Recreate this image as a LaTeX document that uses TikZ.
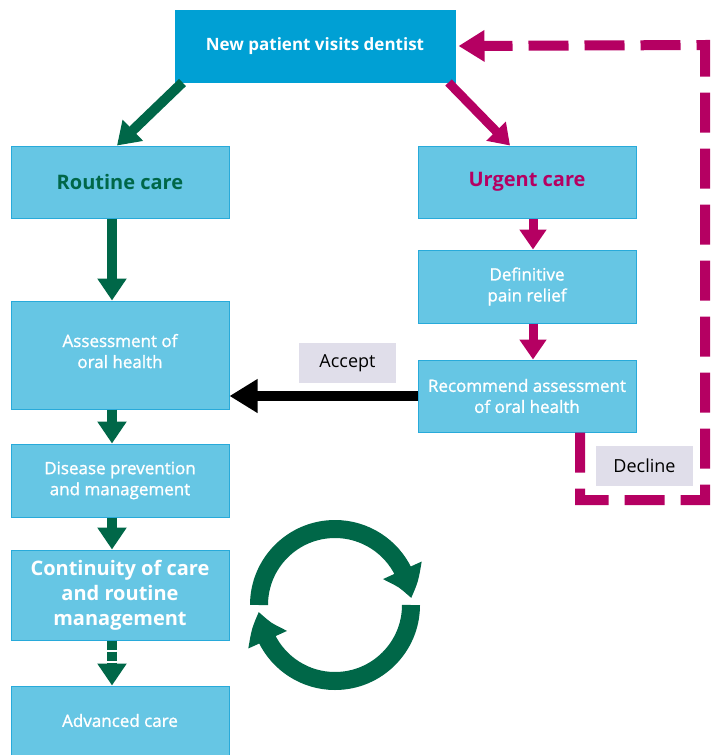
\documentclass[tikz,border=0pt]{standalone}
\usepackage{fontspec}
\setmainfont{Open Sans}
\newfontfamily\medfont[FakeBold=1.3]{Open Sans}
\usetikzlibrary{arrows.meta,bending}

\definecolor{topblue}{RGB}{0,160,212}
\definecolor{boxblue}{RGB}{102,198,228}
\definecolor{boxline}{RGB}{40,170,218}
\definecolor{caregreen}{RGB}{0,103,72}
\definecolor{urgentred}{RGB}{181,0,98}
\definecolor{tagfill}{RGB}{224,222,234}

\begin{document}
\begin{tikzpicture}[x=1pt,y=-1pt,
  box/.style={draw=boxline,line width=1pt,fill=boxblue,text=white,minimum width=218pt,
    align=center,inner sep=2pt,font=\fontsize{17}{21}\selectfont\medfont},
  tag/.style={fill=tagfill,minimum width=97pt,minimum height=40pt,font=\fontsize{18}{18}\selectfont},
  greenarrow/.style={draw=caregreen,line width=10pt,-{Triangle[width=28pt,length=22pt]}},
  redarrow/.style={draw=urgentred,line width=9pt,-{Triangle[width=26pt,length=20pt]}},
  ring/.style={draw=caregreen,line width=18pt,-{Triangle[bend,width=40pt,length=30pt]}}]
\useasboundingbox (0,0) rectangle (710,755);

% Boxes
\node[box,fill=topblue,draw=topblue,minimum width=280pt,minimum height=72pt,
  font=\fontsize{17}{20}\selectfont\bfseries] (new) at (315,46) {New patient visits dentist};
\node[box,minimum height=72pt,text=caregreen,font=\fontsize{20}{22}\selectfont\bfseries] (routine) at (120,182) {Routine care};
\node[box,minimum height=72pt,text=urgentred,font=\fontsize{20}{22}\selectfont\bfseries] (urgent) at (527,182) {Urgent care};
\node[box,minimum height=73pt] (relief) at (527,286.5) {Definitive\\pain relief};
\node[box,minimum height=72pt] (recommend) at (527,396) {Recommend assessment\\of oral health};
\node[box,minimum height=108pt,text depth=8pt] (assess) at (120,355) {Assessment of\\oral health};
\node[box,minimum height=73pt] (disease) at (120,480.5) {Disease prevention\\and management};
\node[box,minimum height=90pt,font=\fontsize{20}{25}\selectfont\bfseries] (continuity) at (120,595)
  {Continuity of care\\and routine\\management};
\node[box,minimum height=69pt] (advanced) at (120,720.5) {Advanced care};

\node[tag] (accept) at (347.5,363) {Accept};
\node[tag] (decline) at (644.5,465.5) {Decline};

% Routine pathway
\draw[greenarrow] ([xshift=8pt]new.south west) -- ([xshift=-3pt]routine.north);
\draw[greenarrow] ([xshift=-8pt]routine.south) -- ([xshift=-8pt]assess.north);
\draw[greenarrow] ([xshift=-8pt]assess.south) -- ([xshift=-8pt]disease.north);
\draw[greenarrow] ([xshift=-8pt]disease.south) -- ([xshift=-8pt]continuity.north);
\draw[greenarrow,dash pattern=on 9pt off 2pt] ([xshift=-8pt]continuity.south) -- ([xshift=-8pt]advanced.north);

% Urgent pathway
\draw[redarrow] ([xshift=-7pt]new.south east) -- ([xshift=-17pt]urgent.north);
\draw[redarrow] ([xshift=6pt]urgent.south) -- ([xshift=6pt]relief.north);
\draw[redarrow] ([xshift=6pt]relief.south) -- ([xshift=6pt]recommend.north);
\draw[line width=10pt,-{Triangle[width=32pt,length=28pt]}] (recommend.west) -- (recommend.west -| assess.east);

% Decline loop
\coordinate (dl) at (580,500);
\coordinate (dr) at (705,500);
\coordinate (ur) at (705,45);
\draw[redarrow,line width=10pt,dash pattern=on 40pt off 16pt,-{Triangle[width=30pt,length=26pt]}]
  ([xshift=53pt]recommend.south) -- (dl) -- (dr) -- (ur) -- ([xshift=3pt]new.east);

% Cycle
\coordinate (cyc) at (335,605);
\draw[ring] ([xshift=-76pt]cyc) arc[start angle=180,end angle=5,radius=76pt];
\draw[ring] ([xshift=76pt]cyc) arc[start angle=0,end angle=-175,radius=76pt];
\end{tikzpicture}
\end{document}
